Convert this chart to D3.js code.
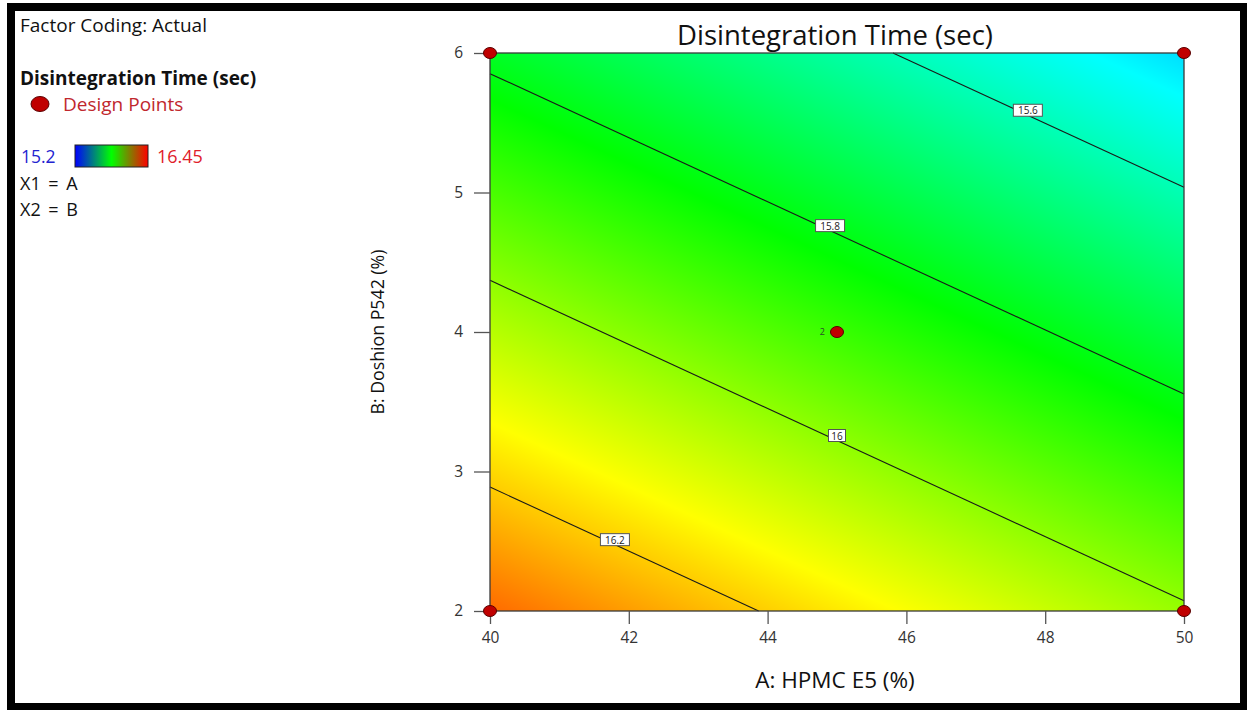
<!DOCTYPE html>
<html>
<head>
<meta charset="utf-8" />
<title>Disintegration Time (sec)</title>
<script src="https://d3js.org/d3.v7.min.js"></script>
<style>
  body { margin: 0; background: #fff; }
  svg { display: block; font-family: "Open Sans", "Noto Sans", sans-serif; }
  .tick text { fill: #333; font-size: 15.5px; }
</style>
</head>
<body>
<div id="chart"></div>
<script>
// factor ranges and ticks
var xTicks = [40, 42, 44, 46, 48, 50];
var yTicks = [2, 3, 4, 5, 6];
// predicted response at the corners of the design space
var cornerA = [40, 50, 40, 50];
var cornerB = [2, 2, 6, 6];
var cornerVal = [16.32, 16.01, 15.78, 15.47];
// design points
var pointA = [40, 50, 40, 50, 45];
var pointB = [2, 2, 6, 6, 4];
var pointRuns = [1, 1, 1, 1, 2];
// contour levels and where their labels sit (A value)
var levels = [15.6, 15.8, 16, 16.2];
var levelLabels = ["15.6", "15.8", "16", "16.2"];
var labelA = [47.75, 44.9, 45.0, 41.8];
// colour legend range
var colorMin = 15.2, colorMax = 16.45;

var width = 1247, height = 710;
var plot = {left: 490, right: 1184, top: 53, bottom: 611};

var svg = d3.select("#chart").append("svg")
    .attr("width", width).attr("height", height);

var x = d3.scaleLinear().domain([40, 50]).range([plot.left, plot.right]);
var y = d3.scaleLinear().domain([2, 6]).range([plot.bottom, plot.top]);

/* colour map: blue - cyan - green - yellow - red */
var color = d3.scaleLinear()
    .domain([0, 0.25, 0.5, 0.75, 1].map(function (t) { return colorMin + t * (colorMax - colorMin); }))
    .range(["#0000ff", "#00ffff", "#00ff00", "#ffff00", "#ff0000"]);

/* fit the (linear) surface through the corner values */
var slopeA = ((cornerVal[1] - cornerVal[0]) + (cornerVal[3] - cornerVal[2])) / 2 / (cornerA[1] - cornerA[0]);
var slopeB = ((cornerVal[2] - cornerVal[0]) + (cornerVal[3] - cornerVal[1])) / 2 / (cornerB[2] - cornerB[0]);
var meanA = d3.mean(cornerA), meanB = d3.mean(cornerB), meanV = d3.mean(cornerVal);
function surface(a, b) { return meanV + slopeA * (a - meanA) + slopeB * (b - meanB); }

var defs = svg.append("defs");
// gradient direction in pixel space
var gx = slopeA / (x(1) - x(0)), gy = slopeB / (y(1) - y(0));
var g2 = gx * gx + gy * gy;
var cx = x(meanA), cy = y(meanB);
var grad = defs.append("linearGradient").attr("id", "surf")
    .attr("gradientUnits", "userSpaceOnUse")
    .attr("x1", cx + gx * (colorMin - meanV) / g2).attr("y1", cy + gy * (colorMin - meanV) / g2)
    .attr("x2", cx + gx * (colorMax - meanV) / g2).attr("y2", cy + gy * (colorMax - meanV) / g2);
d3.range(0, 1.0001, 0.05).forEach(function (t) {
    grad.append("stop").attr("offset", t)
        .attr("stop-color", color(colorMin + t * (colorMax - colorMin)));
});

var leg = defs.append("linearGradient").attr("id", "leg");
leg.append("stop").attr("offset", 0).attr("stop-color", "#0000ff");
leg.append("stop").attr("offset", 0.5).attr("stop-color", "#00ff00");
leg.append("stop").attr("offset", 1).attr("stop-color", "#ff0000");

// outer frame
svg.append("rect").attr("x", 11).attr("y", 7).attr("width", 1233).attr("height", 700)
    .attr("fill", "none").attr("stroke", "#000").attr("stroke-width", 8);

// surface
svg.append("rect")
    .attr("x", plot.left).attr("y", plot.top)
    .attr("width", plot.right - plot.left).attr("height", plot.bottom - plot.top)
    .attr("fill", "url(#surf)");

/* contour lines: where each level crosses the edges of the box */
function crossings(level) {
    var edges = [[40, 2, 50, 2], [50, 2, 50, 6], [50, 6, 40, 6], [40, 6, 40, 2]];
    var pts = [];
    edges.forEach(function (e) {
        var v0 = surface(e[0], e[1]), v1 = surface(e[2], e[3]);
        if ((level - v0) * (level - v1) <= 0 && v0 !== v1) {
            var t = (level - v0) / (v1 - v0);
            pts.push([x(e[0] + t * (e[2] - e[0])), y(e[1] + t * (e[3] - e[1]))]);
        }
    });
    return pts.slice(0, 2);
}

svg.append("g").selectAll("line")
    .data(levels).enter().append("line")
    .each(function (d) {
        var p = crossings(d);
        d3.select(this).attr("x1", p[0][0]).attr("y1", p[0][1]).attr("x2", p[1][0]).attr("y2", p[1][1]);
    })
    .attr("stroke", "#1a1a1a").attr("stroke-width", 1.1);

// plot border
svg.append("rect")
    .attr("x", plot.left).attr("y", plot.top)
    .attr("width", plot.right - plot.left).attr("height", plot.bottom - plot.top)
    .attr("fill", "none").attr("stroke", "#3a3a3a").attr("stroke-width", 1.3);

// contour labels
var labs = svg.append("g").selectAll("g")
    .data(levels).enter().append("g")
    .attr("transform", function (d, i) {
        var b = meanB + (d - meanV - slopeA * (labelA[i] - meanA)) / slopeB;
        return "translate(" + x(labelA[i]) + "," + (y(b) - 5) + ")";
    });
labs.append("rect")
    .attr("x", function (d, i) { return -(levelLabels[i].length * 6 + 5) / 2; })
    .attr("y", -6)
    .attr("width", function (d, i) { return levelLabels[i].length * 6 + 5; })
    .attr("height", 12)
    .attr("fill", "#fff").attr("stroke", "#555").attr("stroke-width", 1);
labs.append("text")
    .attr("text-anchor", "middle").attr("y", 4)
    .style("font-size", "10px").style("fill", "#222")
    .text(function (d, i) { return levelLabels[i]; });

// axes
var xAxis = svg.append("g").attr("transform", "translate(0," + plot.bottom + ")")
    .call(d3.axisBottom(x).tickValues(xTicks).tickFormat(d3.format("d")).tickSize(13).tickPadding(8));
var yAxis = svg.append("g").attr("transform", "translate(" + plot.left + ",0)")
    .call(d3.axisLeft(y).tickValues(yTicks).tickFormat(d3.format("d")).tickSize(16).tickPadding(11));
[xAxis, yAxis].forEach(function (a) {
    a.select(".domain").remove();
    a.selectAll(".tick line").attr("stroke", "#555").attr("stroke-width", 1.3);
    a.selectAll(".tick text").style("font-family", "'Open Sans', sans-serif");
});

// design points
svg.append("g").selectAll("ellipse")
    .data(pointA).enter().append("ellipse")
    .attr("cx", function (d) { return x(d); })
    .attr("cy", function (d, i) { return y(pointB[i]); })
    .attr("rx", 6.5).attr("ry", 5.5)
    .attr("fill", "#c00000").attr("stroke", "#5a0000").attr("stroke-width", 1);
svg.append("g").selectAll("text")
    .data(pointRuns.map(function (r, i) { return i; }).filter(function (i) { return pointRuns[i] > 1; }))
    .enter().append("text")
    .attr("x", function (i) { return x(pointA[i]) - 12; })
    .attr("y", function (i) { return y(pointB[i]) + 3; })
    .attr("text-anchor", "end")
    .style("font-size", "9px").style("fill", "#2a4a2a")
    .text(function (i) { return pointRuns[i]; });

// titles
svg.append("text").attr("x", 835).attr("y", 45).attr("text-anchor", "middle")
    .style("font-size", "27.5px").style("fill", "#111").text("Disintegration Time (sec)");
svg.append("text").attr("x", 835).attr("y", 688).attr("text-anchor", "middle")
    .style("font-size", "22.5px").style("fill", "#111").text("A: HPMC E5 (%)");
svg.append("text").attr("transform", "translate(384,332) rotate(-90)").attr("text-anchor", "middle")
    .style("font-size", "18px").style("fill", "#111")
    .attr("textLength", 165).attr("lengthAdjust", "spacingAndGlyphs")
    .text("B: Doshion P542 (%)");

// legend
var legend = svg.append("g").style("font-size", "19px");
legend.append("text").attr("x", 20).attr("y", 32).style("fill", "#111").text("Factor Coding: Actual");
legend.append("text").attr("x", 20).attr("y", 85).style("font-weight", "bold").style("fill", "#111")
    .style("font-size", "19px").text("Disintegration Time (sec)");
legend.append("ellipse").attr("cx", 40).attr("cy", 104).attr("rx", 9).attr("ry", 7.5)
    .attr("fill", "#c00000").attr("stroke", "#5a0000");
legend.append("text").attr("x", 63).attr("y", 111).style("fill", "#c0272d").text("Design Points");
legend.append("text").attr("x", 21).attr("y", 163).style("fill", "#2323d0").style("font-size", "17.5px").text(colorMin);
legend.append("rect").attr("x", 75).attr("y", 145).attr("width", 73).attr("height", 22)
    .attr("fill", "url(#leg)").attr("stroke", "#222");
legend.append("text").attr("x", 157).attr("y", 163).style("fill", "#e0202a").style("font-size", "18px").text(colorMax);
legend.append("text").attr("x", 20).attr("y", 190).style("fill", "#111").style("font-size", "18px")
    .style("word-spacing", "3px").text("X1 = A");
legend.append("text").attr("x", 20).attr("y", 216).style("fill", "#111").style("font-size", "18px")
    .style("word-spacing", "3px").text("X2 = B");
</script>
</body>
</html>
